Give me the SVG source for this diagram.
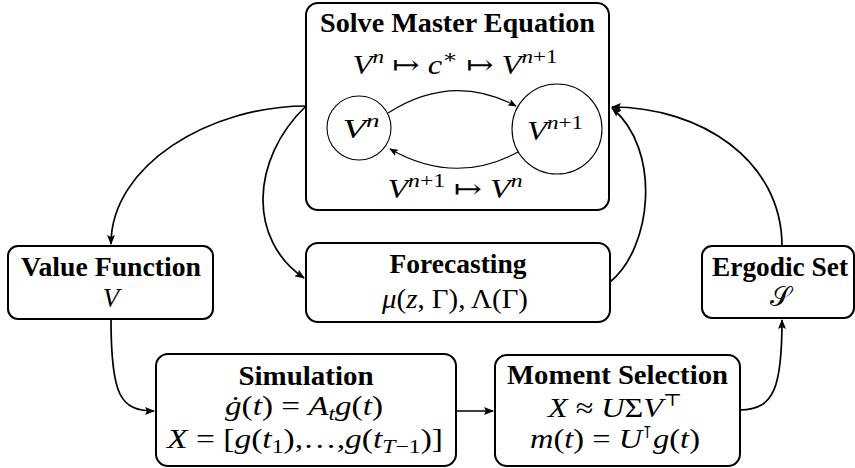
<svg xmlns="http://www.w3.org/2000/svg" width="855" height="468" viewBox="0 0 855 468">
<defs>
<style>
.box{fill:#fff;stroke:#000;stroke-width:2}
.ttl{font-family:"Liberation Serif","DejaVu Serif",serif;font-weight:bold;font-size:27px;text-anchor:middle;fill:#000}
.m{font-family:"Liberation Serif","DejaVu Serif",serif;font-size:27px;text-anchor:middle;fill:#000}
.i{font-style:italic}
.conn{fill:none;stroke:#000;stroke-width:1.7}
.thin{fill:none;stroke:#000;stroke-width:1.1}
</style>
<marker id="ah" viewBox="0 0 10 8" refX="9" refY="4" markerWidth="10" markerHeight="8" markerUnits="userSpaceOnUse" orient="auto">
<path d="M0,0 L10,4 L0,8 L2,4 Z" fill="#000"/>
</marker>
<marker id="ahs" viewBox="0 0 10 8" refX="9" refY="4" markerWidth="9" markerHeight="7" markerUnits="userSpaceOnUse" orient="auto">
<path d="M0,0 L10,4 L0,8 L2,4 Z" fill="#000"/>
</marker>
</defs>

<g id="connectors">
<path class="conn" d="M306,106 C210,106 111,165 111,244" marker-end="url(#ah)"/>
<path class="conn" d="M306,106 C250,160 248,240 304,278" marker-end="url(#ah)"/>
<path class="conn" d="M111,319 C111,395 120,411 154,411" marker-end="url(#ah)"/>
<path class="conn" d="M456,411 L493,411" marker-end="url(#ah)"/>
<path class="conn" d="M740,410 C775,410 782,385 782,320" marker-end="url(#ah)"/>
<path class="conn" d="M610,282 C652,248 662,150 612,108" marker-end="url(#ah)"/>
<path class="conn" d="M782,246 C782,160 700,107 612,107" marker-end="url(#ah)"/>
</g>

<g id="master">
<rect class="box" x="306" y="3" width="303" height="207" rx="12"/>
<text class="ttl" x="457.5" y="32" textLength="275" lengthAdjust="spacingAndGlyphs">Solve Master Equation</text>
<text class="m" x="455" y="74" textLength="205" lengthAdjust="spacingAndGlyphs"><tspan class="i">V</tspan><tspan font-size="19" dy="-11" class="i">n</tspan><tspan dy="11"> ↦ </tspan><tspan class="i">c</tspan><tspan font-size="19" dy="-11">∗</tspan><tspan dy="11"> ↦ </tspan><tspan class="i">V</tspan><tspan font-size="19" dy="-11"><tspan class="i">n</tspan>+1</tspan></text>
<circle class="thin" cx="359" cy="128" r="32"/>
<circle class="thin" cx="557" cy="129" r="45"/>
<text class="m" x="361" y="138" textLength="37" lengthAdjust="spacingAndGlyphs"><tspan class="i">V</tspan><tspan font-size="19" dy="-11" class="i">n</tspan></text>
<text class="m" x="555" y="140" textLength="56" lengthAdjust="spacingAndGlyphs"><tspan class="i">V</tspan><tspan font-size="19" dy="-11"><tspan class="i">n</tspan>+1</tspan></text>
<path class="thin" d="M388,113 Q452,72 516,106" marker-end="url(#ahs)"/>
<path class="thin" d="M518,152 Q455,186 390,149" marker-end="url(#ahs)"/>
<text class="m" x="455" y="198" textLength="135" lengthAdjust="spacingAndGlyphs"><tspan class="i">V</tspan><tspan font-size="19" dy="-11"><tspan class="i">n</tspan>+1</tspan><tspan dy="11"> ↦ </tspan><tspan class="i">V</tspan><tspan font-size="19" dy="-11" class="i">n</tspan></text>
</g>

<g id="value-function">
<rect class="box" x="8" y="246" width="205" height="73" rx="10"/>
<text class="ttl" x="111" y="276" textLength="180" lengthAdjust="spacingAndGlyphs">Value Function</text>
<text class="m i" x="111" y="307">V</text>
</g>

<g id="forecasting">
<rect class="box" x="306" y="243" width="304" height="79" rx="12"/>
<text class="ttl" x="458" y="273" textLength="137" lengthAdjust="spacingAndGlyphs">Forecasting</text>
<text class="m" x="455" y="308" textLength="146" lengthAdjust="spacingAndGlyphs"><tspan class="i">μ</tspan>(<tspan class="i">z</tspan>, Γ), Λ(Γ)</text>
</g>

<g id="ergodic-set">
<rect class="box" x="702" y="246" width="152" height="72" rx="10"/>
<text class="ttl" x="780" y="276" textLength="136" lengthAdjust="spacingAndGlyphs">Ergodic Set</text>
<text class="m" x="780" y="306" font-size="24">𝒮</text>
</g>

<g id="simulation">
<rect class="box" x="156" y="354" width="300" height="112" rx="12"/>
<text class="ttl" x="306" y="385" textLength="135" lengthAdjust="spacingAndGlyphs">Simulation</text>
<text class="m" x="304" y="415" textLength="158" lengthAdjust="spacingAndGlyphs"><tspan class="i">ġ</tspan>(<tspan class="i">t</tspan>) = <tspan class="i">A</tspan><tspan font-size="19" dy="5" class="i">t</tspan><tspan dy="-5" class="i">g</tspan>(<tspan class="i">t</tspan>)</text>
<text class="m" x="305" y="448" textLength="276" lengthAdjust="spacingAndGlyphs"><tspan class="i">X</tspan> = [<tspan class="i">g</tspan>(<tspan class="i">t</tspan><tspan font-size="19" dy="5">1</tspan><tspan dy="-5">),…,</tspan><tspan class="i">g</tspan>(<tspan class="i">t</tspan><tspan font-size="19" dy="5"><tspan class="i">T</tspan>−1</tspan><tspan dy="-5">)]</tspan></text>
</g>

<g id="moment-selection">
<rect class="box" x="495" y="355" width="245" height="111" rx="12"/>
<text class="ttl" x="617.5" y="384" textLength="221" lengthAdjust="spacingAndGlyphs">Moment Selection</text>
<text class="m" x="615" y="417" textLength="134" lengthAdjust="spacingAndGlyphs"><tspan class="i">X</tspan> ≈ <tspan class="i">U</tspan>Σ<tspan class="i">V</tspan><tspan font-size="17" dy="-11">⊤</tspan></text>
<text class="m" x="615" y="448" textLength="170" lengthAdjust="spacingAndGlyphs"><tspan class="i">m</tspan>(<tspan class="i">t</tspan>) = <tspan class="i">U</tspan><tspan font-size="17" dy="-10">⊺</tspan><tspan dy="10" class="i">g</tspan>(<tspan class="i">t</tspan>)</text>
</g>
</svg>
